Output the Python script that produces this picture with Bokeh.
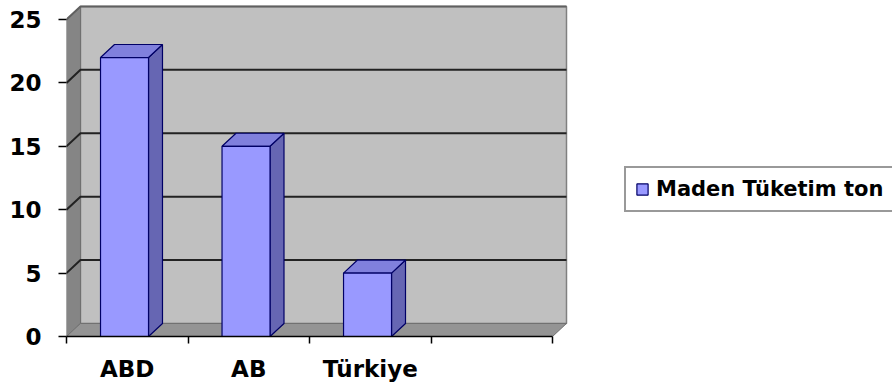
from bokeh.plotting import figure
from bokeh.models import Range1d, FixedTicker, ColumnDataSource, Legend, LegendItem
from bokeh.embed import file_html
from bokeh.resources import INLINE

# ---- data ----
categories = ["ABD", "AB", "Türkiye", ""]
values = [22, 15, 5, None]
series_name = "Maden Tüketim ton"
y_ticks = [0, 5, 10, 15, 20, 25]

# ---- style / geometry constants ----
Y_MAX = y_ticks[-1]
DX, DY = 0.115, 1.03          # 3-D depth offset in data units
BAR_L, BAR_W = 0.28, 0.395    # bar front-face offset and width within a slot
n = len(categories)
FONT = "DejaVu Sans"

p = figure(width=892, height=390, output_backend="svg", toolbar_location=None,
           x_range=Range1d(0, 6.798), y_range=Range1d(0, 26.5),
           min_border_left=66, min_border_right=0, min_border_top=0,
           min_border_bottom=54)
p.outline_line_color = None
p.xgrid.visible = False
p.ygrid.visible = False
p.background_fill_color = "white"
p.border_fill_color = "white"

# walls
p.patch([DX, n + DX, n + DX, DX], [DY, DY, Y_MAX + DY, Y_MAX + DY],
        fill_color="#C0C0C0", line_color="#808080", line_width=1.5)
p.patch([0, DX, DX, 0], [0, DY, Y_MAX + DY, Y_MAX],
        fill_color="#858585", line_color="#707070", line_width=1)
p.patch([0, n, n + DX, DX], [0, 0, DY, DY],
        fill_color="#949494", line_color="#707070", line_width=1)

# gridlines (side wall diagonal + back wall)
grid_vals = [t for t in y_ticks if 0 < t < Y_MAX]
p.multi_line([[0, DX, n + DX] for t in grid_vals],
             [[t, t + DY, t + DY] for t in grid_vals],
             line_color="#222222", line_width=2)
p.multi_line([[0, DX, n + DX]], [[Y_MAX, Y_MAX + DY, Y_MAX + DY]],
             line_color="#606060", line_width=2)

# bars
lefts, rights, tops = [], [], []
side_xs, side_ys, top_xs, top_ys = [], [], [], []
for i, v in enumerate(values):
    if v is None:
        continue
    l = i + BAR_L
    r = l + BAR_W
    lefts.append(l); rights.append(r); tops.append(v)
    side_xs.append([r, r + DX, r + DX, r]); side_ys.append([0, DY, v + DY, v])
    top_xs.append([l, r, r + DX, l + DX]); top_ys.append([v, v, v + DY, v + DY])

p.patches(side_xs, side_ys, fill_color="#6666B3", line_color="#000066", line_width=1.2)
p.patches(top_xs, top_ys, fill_color="#8080DD", line_color="#000066", line_width=1.2)
src = ColumnDataSource(dict(left=lefts, right=rights, top=tops, bottom=[0] * len(tops)))
front = p.quad(left="left", right="right", top="top", bottom="bottom", source=src,
               fill_color="#9999FF", line_color="#000066", line_width=1.2)

# x axis
xa = p.xaxis[0]
xa.ticker = FixedTicker(ticks=[i + 0.5 for i in range(n)], minor_ticks=list(range(n + 1)))
xa.major_label_overrides = {i + 0.5: c for i, c in enumerate(categories)}
xa.bounds = (0, n)
xa.major_tick_out = 0
xa.major_tick_in = 0
xa.minor_tick_out = 7
xa.minor_tick_in = 0
xa.minor_tick_line_color = "black"
xa.minor_tick_line_width = 1.5
xa.axis_line_color = "black"
xa.axis_line_width = 1.5
xa.major_label_standoff = 12
xa.major_label_text_font = FONT
xa.major_label_text_font_style = "bold"
xa.major_label_text_font_size = "23px"
xa.major_label_text_color = "black"

# y axis
ya = p.yaxis[0]
ya.ticker = FixedTicker(ticks=y_ticks, minor_ticks=[])
ya.bounds = (0, Y_MAX)
ya.axis_line_color = None
ya.major_tick_out = 8
ya.major_tick_in = 0
ya.major_tick_line_color = "black"
ya.major_tick_line_width = 1.5
ya.minor_tick_out = 0
ya.minor_tick_in = 0
ya.major_label_standoff = 17
ya.major_label_text_font = FONT
ya.major_label_text_font_style = "bold"
ya.major_label_text_font_size = "23px"
ya.major_label_text_color = "black"

# legend
legend = Legend(items=[LegendItem(label=series_name, renderers=[front])],
                location=(558, 124), orientation="vertical",
                glyph_width=14, glyph_height=14, label_standoff=7,
                padding=9, margin=0, spacing=0,
                label_text_font=FONT, label_text_font_style="bold",
                label_text_font_size="21px", label_text_color="black",
                border_line_color="#333333", border_line_width=2,
                background_fill_color="white", background_fill_alpha=1)
p.add_layout(legend)

open("out.html", "w").write(file_html(p, INLINE))
